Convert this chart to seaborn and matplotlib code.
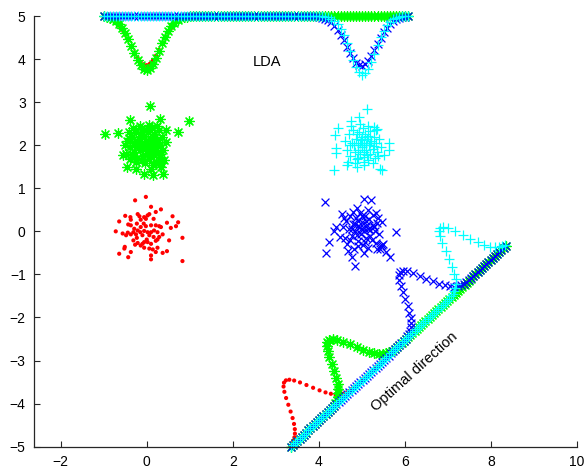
import numpy as np
import pandas as pd
import matplotlib
matplotlib.use("Agg")
import matplotlib.pyplot as plt
import seaborn as sns

# ---------------- data ----------------
red_pts = [
    (-0.02, 0.80), (-0.27, 0.72), (0.10, 0.57), (0.33, 0.51), (0.21, 0.45), (-0.21, 0.40),
    (-0.17, 0.35), (-0.50, 0.36), (-0.38, 0.33), (-0.06, 0.33), (0.02, 0.37), (0.06, 0.40),
    (0.60, 0.35), (-0.64, 0.23), (-0.37, 0.27), (-0.14, 0.27), (-0.02, 0.29), (0.16, 0.29),
    (0.73, 0.21), (0.47, 0.20), (-0.23, 0.18), (-0.43, 0.16), (-0.37, 0.14), (-0.07, 0.18),
    (0.10, 0.14), (0.21, 0.14), (0.29, 0.12), (0.68, 0.12), (0.56, 0.08), (-0.72, 0.00),
    (-0.56, -0.05), (-0.44, -0.03), (-0.31, -0.02), (-0.21, 0.02), (-0.15, -0.02), (-0.06, 0.01),
    (0.02, -0.02), (0.17, 0.02), (0.25, -0.02), (0.37, -0.07), (-0.48, -0.09), (-0.37, -0.07),
    (-0.25, -0.07), (-0.10, -0.09), (0.06, -0.09), (0.16, -0.13), (0.29, -0.13), (0.83, -0.15),
    (0.52, -0.21), (-0.31, -0.21), (-0.21, -0.27), (-0.06, -0.25), (0.02, -0.25), (0.10, -0.29),
    (0.21, -0.22), (-0.27, -0.31), (-0.14, -0.33), (-0.51, -0.36), (0.25, -0.38), (-0.06, -0.38),
    (0.06, -0.40), (0.14, -0.42), (-0.52, -0.40), (-0.37, -0.48), (0.21, -0.48), (0.37, -0.50),
    (0.47, -0.46), (-0.64, -0.52), (-0.43, -0.60), (0.10, -0.56), (0.83, -0.69), (0.10, -0.65),
    (-0.10, -0.29), (0.33, 0.10), (-0.02, 0.12), (-0.14, 0.10), (-0.29, 0.06), (0.10, -0.02),
    (-0.23, -0.15), (0.00, -0.19), (0.25, -0.19),
]
green_pts = [
    (0.08, 2.91), (0.99, 2.56), (-0.38, 2.58), (-0.97, 2.25), (-0.66, 2.29), (0.31, 2.62),
    (0.73, 2.31), (0.44, 2.35), (-0.56, 1.77), (-0.47, 1.50), (-0.07, 1.32), (0.14, 1.30),
    (0.37, 1.32), (0.33, 1.50), (0.44, 2.08), (-0.41, 2.16),
    (-0.45, 2.10), (-0.40, 1.95), (-0.35, 2.20), (-0.30, 1.85), (-0.28, 2.05), (-0.25, 2.30),
    (-0.22, 1.70), (-0.20, 1.98), (-0.18, 2.15), (-0.15, 1.88), (-0.12, 2.38), (-0.10, 2.05),
    (-0.08, 1.75), (-0.06, 2.22), (-0.04, 1.95), (-0.02, 2.10), (0.00, 1.82), (0.02, 2.30),
    (0.04, 2.00), (0.06, 1.68), (0.08, 2.15), (0.10, 1.90), (0.12, 2.40), (0.14, 2.05),
    (0.16, 1.78), (0.18, 2.25), (0.20, 1.95), (0.22, 1.60), (0.24, 2.12), (0.26, 1.85),
    (0.28, 2.35), (0.30, 2.00), (0.32, 1.72), (0.35, 2.18), (0.38, 1.90), (0.40, 1.65),
    (-0.50, 2.00), (-0.48, 1.80), (-0.38, 1.68), (-0.32, 2.40), (-0.26, 1.62), (-0.16, 2.45),
    (-0.05, 1.58), (0.05, 2.48), (0.15, 1.55), (0.25, 2.45), (0.34, 1.58), (-0.42, 2.30),
    (-0.12, 1.65), (0.09, 1.75), (-0.20, 2.08), (0.00, 2.00), (0.18, 2.02), (-0.08, 1.92),
    (0.12, 2.12), (-0.30, 2.00), (0.27, 1.98), (-0.15, 2.25), (0.05, 1.88), (0.20, 2.20),
    (-0.02, 2.35), (-0.35, 1.78), (0.30, 1.80), (0.10, 1.45), (-0.25, 1.45),
]
blue_pts = [
    (4.14, 0.67), (5.05, 0.75), (5.22, 0.73), (4.89, 0.55), (4.54, 0.40), (5.32, 0.42),
    (5.47, 0.22), (5.80, -0.02), (4.35, 0.01), (4.23, -0.24), (4.16, -0.51), (4.76, -0.59),
    (4.85, -0.80), (5.47, -0.32), (5.66, -0.59), (5.55, -0.47), (5.36, -0.40), (4.50, -0.12),
    (4.39, 0.09),
    (4.55, 0.10), (4.60, -0.15), (4.62, 0.25), (4.66, -0.30), (4.70, 0.05), (4.73, 0.35),
    (4.76, -0.10), (4.79, 0.18), (4.82, -0.40), (4.85, 0.00), (4.87, 0.30), (4.90, -0.22),
    (4.92, 0.12), (4.95, 0.42), (4.97, -0.05), (5.00, 0.22), (5.02, -0.32), (5.04, 0.08),
    (5.07, 0.35), (5.09, -0.15), (5.12, 0.15), (5.14, -0.38), (5.17, 0.28), (5.20, 0.02),
    (5.23, -0.20), (5.26, 0.38), (5.29, 0.10), (5.32, -0.28), (5.35, 0.20), (5.40, -0.05),
    (5.45, -0.35), (5.50, -0.30), (5.42, -0.42), (4.68, -0.45), (4.80, 0.45), (5.05, -0.50),
    (5.15, 0.50), (4.58, 0.30), (5.38, 0.32), (4.95, 0.10), (5.05, 0.00), (4.88, -0.08),
    (5.10, 0.25), (4.78, 0.05), (5.20, -0.10), (4.92, -0.35), (5.00, 0.35), (4.85, 0.18),
    (5.25, 0.15), (4.72, -0.20), (5.08, -0.25), (4.98, 0.05), (5.15, 0.05), (4.90, 0.25),
    (5.30, 0.00),
]
cyan_pts = [
    (5.11, 2.85), (4.93, 2.66), (4.74, 2.56), (4.44, 2.39), (4.37, 2.23), (4.39, 1.94),
    (4.41, 1.81), (5.63, 2.04), (5.63, 1.88), (5.42, 1.44), (5.47, 1.42), (4.35, 1.42),
    (4.66, 1.53), (4.89, 1.50), (5.05, 1.61), (5.28, 2.43), (5.32, 2.35), (5.51, 1.77),
    (4.60, 2.10), (4.65, 1.90), (4.70, 2.25), (4.72, 1.75), (4.78, 2.05), (4.80, 2.35),
    (4.83, 1.85), (4.86, 2.15), (4.88, 1.68), (4.90, 2.00), (4.93, 2.30), (4.95, 1.80),
    (4.98, 2.12), (5.00, 1.95), (5.02, 2.40), (5.04, 1.72), (5.06, 2.05), (5.08, 2.25),
    (5.10, 1.88), (5.12, 2.15), (5.14, 1.65), (5.16, 2.00), (5.18, 2.32), (5.20, 1.80),
    (5.22, 2.10), (5.25, 1.92), (5.28, 2.20), (5.30, 1.70), (5.33, 2.05), (5.36, 1.85),
    (5.40, 2.15), (5.45, 1.95), (4.68, 1.62), (4.75, 2.45), (4.85, 1.58), (4.95, 2.50),
    (5.05, 1.55), (5.15, 2.45), (5.25, 1.58), (5.35, 2.38), (4.90, 1.90), (5.00, 2.18),
    (5.10, 2.00), (4.82, 2.00), (5.20, 2.05), (5.05, 1.85), (4.95, 2.05), (5.12, 1.78),
    (4.88, 2.25), (5.28, 1.98), (4.72, 2.00), (5.38, 1.75), (5.00, 2.00), (5.15, 2.22),
    (4.92, 1.70),
]

class_names = ["red", "green", "blue", "cyan"]
x_ticks = [-2, 0, 2, 4, 6, 8, 10]
y_ticks = [-5, -4, -3, -2, -1, 0, 1, 2, 3, 4, 5]
lda_label = "LDA"
opt_label = "Optimal direction"

# ---------------- style / layout ----------------
styles = {
    "red":   dict(color=(1, 0, 0), marker="o", s=9, lw=0.0),
    "green": dict(color=(0, 1, 0), marker=(8, 2, 0), s=50, lw=0.9),
    "blue":  dict(color=(0, 0, 1), marker="x", s=32, lw=0.9),
    "cyan":  dict(color=(0, 1, 1), marker="+", s=62, lw=0.9),
}
N_GRID = 100
LDA_Y = 5.0                       # level where the LDA projection is drawn
LDA_RANGE = (-1.0, 6.08)          # evaluation range along x
OPT_ANGLE = 43.0                  # optimal direction (degrees)
OPT_RANGE = (-0.97, 5.86)         # evaluation range along the optimal direction
OPT_START = np.array([3.35, -5.0])  # where the optimal-direction axis is drawn

sns.set_theme(style="ticks")
plt.rcParams["font.family"] = ["Liberation Sans", "DejaVu Sans"]

fig = plt.figure(figsize=(5.85, 4.71), dpi=100)
ax = fig.add_axes([34 / 585, 24.3 / 471, 543 / 585, 430.7 / 471])

data = {"red": red_pts, "green": green_pts, "blue": blue_pts, "cyan": cyan_pts}


def scatter(xs, ys, name):
    st = styles[name]
    df = pd.DataFrame({"x": xs, "y": ys})
    kws = dict(marker=st["marker"], s=st["s"], linewidth=st["lw"], color=st["color"],
               ax=ax, legend=False, clip_on=False)
    if name == "red":
        kws["edgecolor"] = "none"
    sns.scatterplot(data=df, x="x", y="y", **kws)


def normal_density(values, grid):
    m = np.mean(values)
    sd = np.std(values, ddof=1)
    return np.exp(-0.5 * ((grid - m) / sd) ** 2) / (sd * np.sqrt(2 * np.pi))


# clusters
for name in class_names:
    pts = np.array(data[name])
    scatter(pts[:, 0], pts[:, 1], name)

# projections
w = np.array([np.cos(np.deg2rad(OPT_ANGLE)), np.sin(np.deg2rad(OPT_ANGLE))])
nrm = np.array([-w[1], w[0]])
g_lda = np.linspace(LDA_RANGE[0], LDA_RANGE[1], N_GRID)
g_opt = np.linspace(OPT_RANGE[0], OPT_RANGE[1], N_GRID)
for name in class_names:
    pts = np.array(data[name])
    # LDA (horizontal) projection
    d = normal_density(pts[:, 0], g_lda)
    scatter(g_lda, LDA_Y - d, name)
    # optimal-direction projection
    p = pts @ w
    d2 = normal_density(p, g_opt)
    base = OPT_START[None, :] + (g_opt - g_opt[0])[:, None] * w[None, :]
    curve = base + d2[:, None] * nrm[None, :]
    scatter(curve[:, 0], curve[:, 1], name)

ax.text(2.8, 3.93, lda_label, ha="center", va="center", fontsize=10.5, color="black")
ax.text(6.22, -3.27, opt_label, ha="center", va="center", fontsize=10.5,
        rotation=42, rotation_mode="anchor", color="black")

ax.set_xlim(-2.62, 10)
ax.set_ylim(-5, 5)
ax.set_xticks(x_ticks)
ax.set_yticks(y_ticks)
ax.set_xticklabels([f"{v}".replace("-", "\u2212") for v in x_ticks])
ax.set_yticklabels([f"{v}".replace("-", "\u2212") for v in y_ticks])
ax.set_xlabel("")
ax.set_ylabel("")
sns.despine(ax=ax)
for sp in ["left", "bottom"]:
    ax.spines[sp].set_color("#262626")
    ax.spines[sp].set_linewidth(0.9)
ax.tick_params(direction="in", length=4, width=0.8, colors="#262626",
               labelcolor="black", labelsize=10, pad=6)
ax.set_facecolor("white")
fig.patch.set_facecolor("white")

fig.savefig("out.png", dpi=100, facecolor="white")
